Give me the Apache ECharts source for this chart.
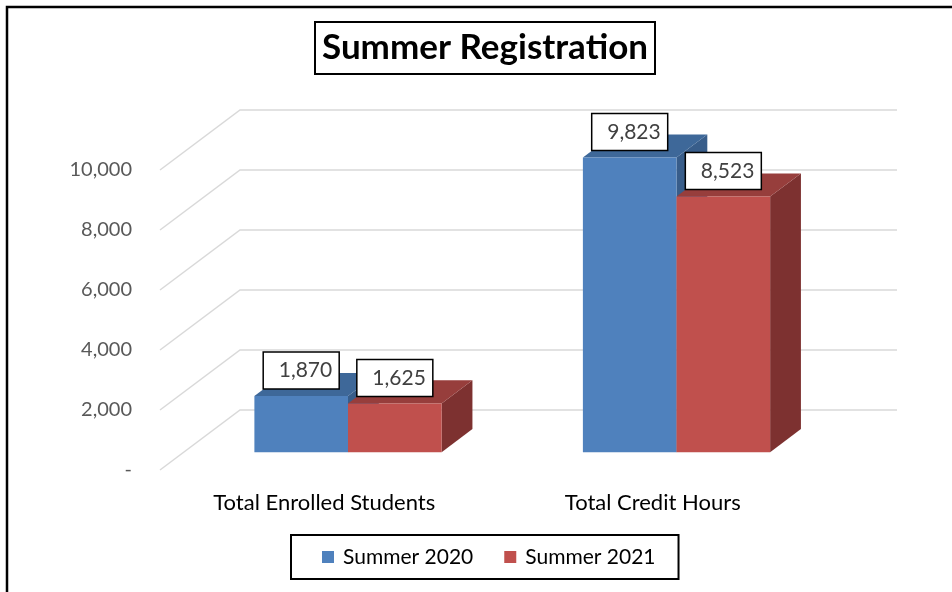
<!DOCTYPE html>
<html>
<head>
    <meta charset="utf-8">
    <title>Summer Registration</title>
    <script src="https://cdn.jsdelivr.net/npm/echarts@6/dist/echarts.min.js"></script>
    <style>
        html, body { margin: 0; padding: 0; background: #fff; }
        #chart1 { width: 952px; height: 592px; }
    </style>
</head>
<body>
<div id="chart1"></div>
<script type="text/javascript">
    // data
    var categories = ['Total Enrolled Students', 'Total Credit Hours'];
    var seriesNames = ['Summer 2020', 'Summer 2021'];
    var summer2020 = [1870, 9823];
    var summer2021 = [1625, 8523];
    var yTicks = [0, 2000, 4000, 6000, 8000, 10000];

    // fake 3d look: depth vector of the floor, bars sit between f0 and f0+fd of it
    var DX = 80, DY = -60;
    var f0 = 0.297, fd = 0.385;
    var barFrac = 0.285;
    var faces = [
        {front: '#4F81BD', top: '#3E6899', side: '#385D8A'},
        {front: '#C0504D', top: '#973E3C', side: '#7D3130'}
    ];
    var FONT = 'Lato, "Open Sans", sans-serif';

    function fmt(v) {
        return v.toLocaleString('en-US');
    }

    function renderGrid(params, api) {
        var cs = params.coordSys;
        var y = api.coord([0, api.value(1)])[1];
        var left = cs.x, right = cs.x + cs.width;
        return {
            type: 'polyline',
            shape: {points: [[left, y], [left + DX, y + DY], [right + DX, y + DY]]},
            style: {stroke: '#D9D9D9', lineWidth: 1.5, fill: null},
            silent: true
        };
    }

    function makeBarRender(s) {
        return function (params, api) {
            var idx = api.value(0);
            var val = api.value(1);
            var base = api.coord([idx, 0]);
            var topPt = api.coord([idx, val]);
            var band = api.size([1, 0])[0];
            var w = band * barFrac;
            var x0 = base[0] - w + s * w + DX * f0;
            var yb = base[1] + DY * f0;
            var yt = topPt[1] + DY * f0;
            var ddx = DX * fd, ddy = DY * fd;
            var c = faces[s];
            var bw = 76, bh = 37;
            var cx = x0 + w / 2;
            var boxY = yt - 7 - bh;
            return {
                type: 'group',
                children: [
                    {type: 'polygon', shape: {points: [[x0 + w, yt], [x0 + w + ddx, yt + ddy], [x0 + w + ddx, yb + ddy], [x0 + w, yb]]},
                        style: {fill: c.side}},
                    {type: 'polygon', shape: {points: [[x0, yt], [x0 + w, yt], [x0 + w + ddx, yt + ddy], [x0 + ddx, yt + ddy]]},
                        style: {fill: c.top}},
                    {type: 'rect', shape: {x: x0, y: yt, width: w, height: yb - yt},
                        style: {fill: c.front}},
                    {type: 'rect', shape: {x: cx - bw / 2, y: boxY, width: bw, height: bh},
                        style: {fill: '#fff', stroke: '#000', lineWidth: 1.5}},
                    {type: 'text', x: cx + bw / 2 - 7, y: boxY + bh / 2,
                        style: {text: fmt(val), fill: '#404040', font: '21px ' + FONT,
                            align: 'right', verticalAlign: 'middle', textAlign: 'right', textVerticalAlign: 'middle'}}
                ]
            };
        };
    }

    var myChart1 = echarts.init(document.getElementById('chart1'));
    myChart1.setOption({
        animation: false,
        backgroundColor: '#fff',
        title: {
            text: 'Summer Registration',
            left: 315,
            top: 22,
            padding: [9, 7, 9, 7],
            borderColor: '#000',
            borderWidth: 2,
            textStyle: {fontFamily: FONT, fontWeight: 'bold', fontSize: 35, lineHeight: 34, color: '#000'}
        },
        legend: {
            data: seriesNames,
            left: 291,
            top: 535,
            padding: [11, 23, 11, 31],
            borderColor: '#000',
            borderWidth: 2,
            icon: 'rect',
            itemWidth: 12,
            itemHeight: 12,
            itemGap: 31,
            textStyle: {fontFamily: FONT, fontSize: 21, lineHeight: 22, color: '#000', padding: [0, 0, 0, 4]}
        },
        grid: {left: 160, right: 135, top: 170, bottom: 122},
        xAxis: {
            type: 'category',
            data: categories,
            axisLine: {show: false},
            axisTick: {show: false},
            axisLabel: {margin: 22, fontFamily: FONT, fontSize: 22, color: '#000'}
        },
        yAxis: {
            type: 'value',
            min: 0,
            max: 10000,
            interval: 2000,
            splitLine: {show: false},
            axisLine: {show: false},
            axisTick: {show: false},
            axisLabel: {
                margin: 28,
                fontFamily: FONT,
                fontSize: 20,
                color: '#595959',
                padding: [5, 0, 0, 0],
                formatter: function (v) { return v === 0 ? '-' : fmt(v); }
            }
        },
        graphic: [{
            type: 'rect',
            shape: {x: 7, y: 7, width: 1000, height: 1000},
            style: {fill: null, stroke: '#000', lineWidth: 2.5},
            silent: true
        }],
        series: [
            {
                type: 'custom',
                name: 'grid',
                renderItem: renderGrid,
                data: yTicks.map(function (v) { return [0, v]; }),
                encode: {x: 0, y: 1},
                clip: false,
                silent: true
            },
            {
                type: 'custom',
                name: seriesNames[0],
                itemStyle: {color: faces[0].front},
                renderItem: makeBarRender(0),
                data: summer2020.map(function (v, i) { return [i, v]; }),
                encode: {x: 0, y: 1},
                clip: false
            },
            {
                type: 'custom',
                name: seriesNames[1],
                itemStyle: {color: faces[1].front},
                renderItem: makeBarRender(1),
                data: summer2021.map(function (v, i) { return [i, v]; }),
                encode: {x: 0, y: 1},
                clip: false
            }
        ]
    });
</script>
</body>
</html>
